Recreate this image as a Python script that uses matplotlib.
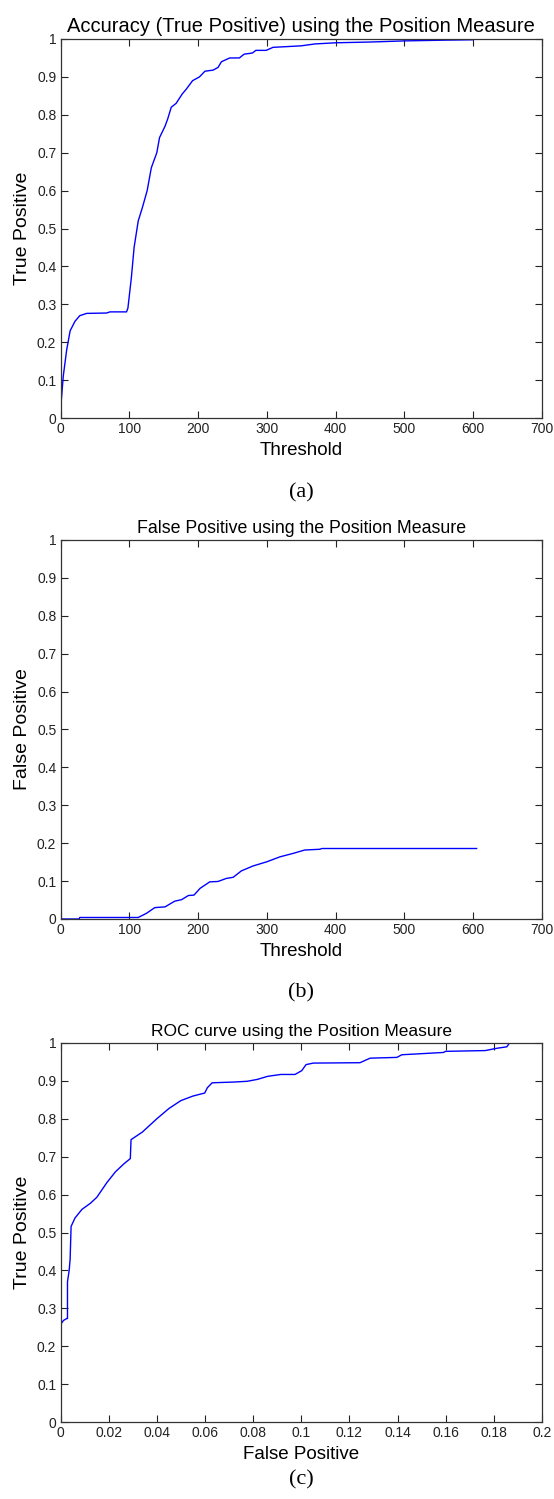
import matplotlib
matplotlib.use("Agg")
import matplotlib.pyplot as plt

# ---- data ----
# (a) true positive vs threshold
thr_a = [0, 4, 9, 14, 21, 28, 38, 67, 72, 96, 98, 103, 107, 113, 119, 126, 132, 140, 144,
         152, 156, 161, 168, 177, 183, 192, 202, 210, 222, 229, 234, 246, 260, 267, 279, 284,
         299, 309, 330, 350, 370, 400, 450, 500, 560, 600]
tp_a = [0.02, 0.11, 0.18, 0.23, 0.255, 0.27, 0.276, 0.277, 0.28, 0.28, 0.29, 0.37, 0.45,
        0.52, 0.555, 0.60, 0.66, 0.70, 0.74, 0.77, 0.79, 0.82, 0.83, 0.855, 0.868, 0.89,
        0.90, 0.915, 0.918, 0.925, 0.94, 0.95, 0.95, 0.96, 0.963, 0.97, 0.97, 0.978, 0.98,
        0.982, 0.987, 0.99, 0.992, 0.995, 0.997, 0.998]

# (b) false positive vs threshold
thr_b = [0, 27, 28, 113, 125, 137, 152, 166, 176, 186, 194, 203, 217, 229, 241, 251, 263,
         280, 300, 319, 338, 355, 377, 380, 605]
fp_b = [0.0, 0.0, 0.004, 0.004, 0.015, 0.03, 0.032, 0.047, 0.051, 0.062, 0.063, 0.081,
        0.098, 0.099, 0.107, 0.110, 0.127, 0.140, 0.151, 0.164, 0.173, 0.182, 0.184, 0.186,
        0.186]

# (c) ROC curve
fp_c = [0, 0, 0.00125, 0.0026, 0.0029, 0.0029, 0.0036, 0.0040, 0.0044, 0.006, 0.0089,
        0.0124, 0.0151, 0.0193, 0.0228, 0.0263, 0.0290, 0.0293, 0.034, 0.040, 0.045, 0.050,
        0.055, 0.0599, 0.061, 0.063, 0.072, 0.0776, 0.0818, 0.086, 0.0915, 0.0974, 0.1002,
        0.102, 0.105, 0.1244, 0.1286, 0.1397, 0.1418, 0.159, 0.160, 0.1764, 0.178, 0.1812,
        0.1854, 0.1865]
tp_c = [0, 0.257, 0.268, 0.273, 0.273, 0.37, 0.40, 0.43, 0.516, 0.538, 0.561, 0.577,
        0.593, 0.632, 0.66, 0.681, 0.695, 0.745, 0.765, 0.80, 0.827, 0.848, 0.86, 0.868,
        0.882, 0.895, 0.897, 0.899, 0.904, 0.912, 0.917, 0.917, 0.927, 0.943, 0.947, 0.948,
        0.960, 0.962, 0.969, 0.975, 0.978, 0.980, 0.982, 0.986, 0.990, 1.0]

y_ticks = [0, 0.1, 0.2, 0.3, 0.4, 0.5, 0.6, 0.7, 0.8, 0.9, 1]
y_labels = ["0", "0.1", "0.2", "0.3", "0.4", "0.5", "0.6", "0.7", "0.8", "0.9", "1"]
thr_ticks = [0, 100, 200, 300, 400, 500, 600, 700]
thr_labels = ["0", "100", "200", "300", "400", "500", "600", "700"]
fp_ticks = [0, 0.02, 0.04, 0.06, 0.08, 0.1, 0.12, 0.14, 0.16, 0.18, 0.2]
fp_labels = ["0", "0.02", "0.04", "0.06", "0.08", "0.1", "0.12", "0.14", "0.16", "0.18", "0.2"]

plt.rcParams["font.family"] = ["Liberation Sans", "DejaVu Sans"]

fig = plt.figure(figsize=(5.54, 14.99), dpi=100)

W, H = 554, 1499
left, width = 60.5 / W, 481.5 / W
ax_h = 379 / H
bottoms = [1 - 418 / H, 1 - 919 / H, 1 - 1422 / H]
panel_lbl_y = [1 - 493 / H, 1 - 993 / H, 1 - 1480 / H]

panels = [
    (thr_a, tp_a, (0, 700), thr_ticks, thr_labels, "Threshold", "True Positive",
     "Accuracy (True Positive) using the Position Measure", "(a)", 14.5),
    (thr_b, fp_b, (0, 700), thr_ticks, thr_labels, "Threshold", "False Positive",
     "False Positive using the Position Measure", "(b)", 12.8),
    (fp_c, tp_c, (0, 0.2), fp_ticks, fp_labels, "False Positive", "True Positive",
     "ROC curve using the Position Measure", "(c)", 12.5),
]

for i, (xs, ys, xlim, xt, xtl, xl, yl, title, tag, tsize) in enumerate(panels):
    ax = fig.add_axes([left, bottoms[i], width, ax_h])
    ax.plot(xs, ys, color="#0000ff", lw=1.0)
    ax.set_xlim(*xlim)
    ax.set_ylim(0, 1)
    ax.set_xticks(xt)
    ax.set_xticklabels(xtl)
    ax.set_yticks(y_ticks)
    ax.set_yticklabels(y_labels)
    ax.tick_params(direction="in", length=5, width=0.8, top=True, right=True,
                   labelsize=10, colors="#222222", pad=3)
    for s in ax.spines.values():
        s.set_color("#333333")
        s.set_linewidth(0.9)
    ax.set_xlabel(xl, fontsize=13.5, labelpad=4)
    ax.set_ylabel(yl, fontsize=14, labelpad=4)
    ax.set_title(title, fontsize=tsize, pad=5)
    fig.text(left + width / 2, panel_lbl_y[i], tag, ha="center", va="center",
             fontsize=16, family=["Liberation Serif", "DejaVu Serif"])

fig.savefig("out.png", dpi=100)
